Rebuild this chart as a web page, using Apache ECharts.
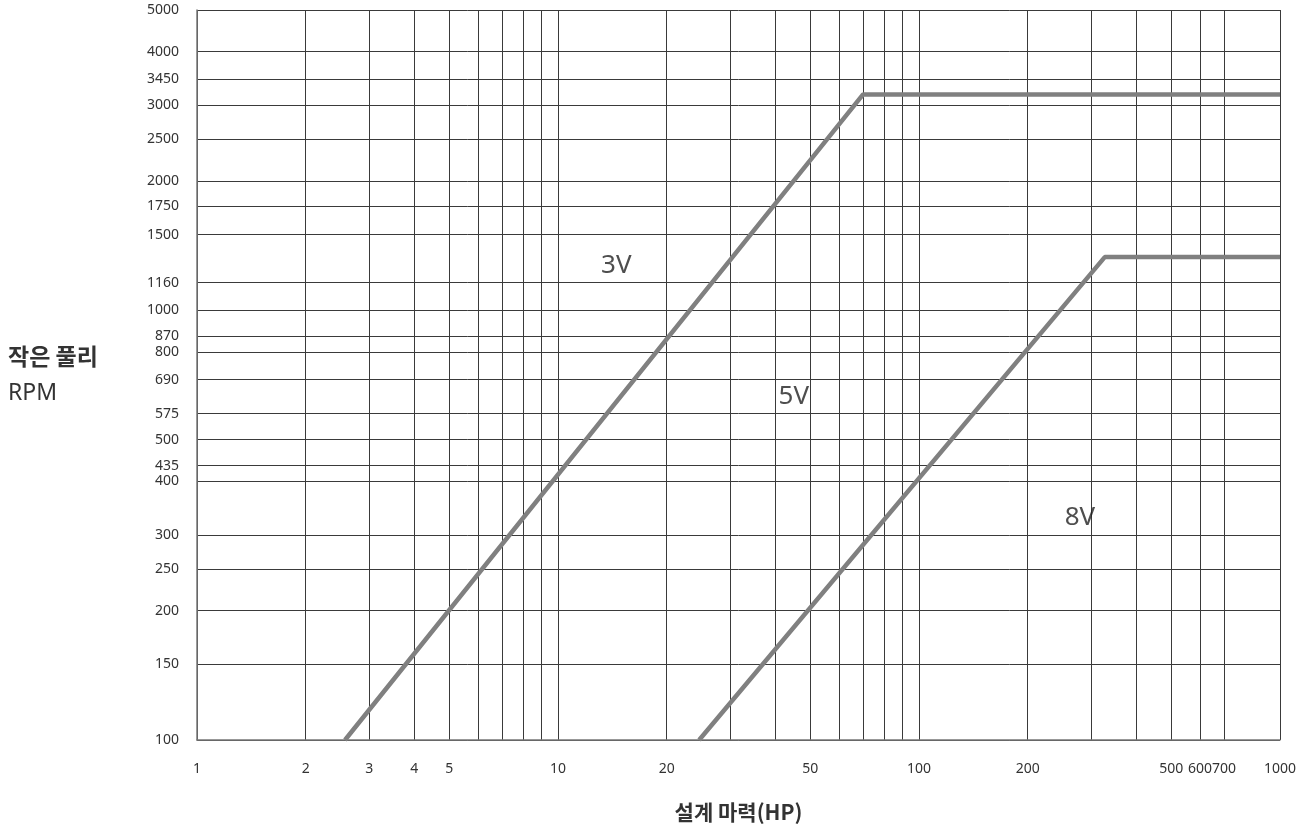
<!DOCTYPE html>
<html>
<head>
<meta charset="utf-8">
<style>
  html, body { margin: 0; padding: 0; background: #fff; }
  #chart { width: 1305px; height: 830px; }
</style>
<script src="https://cdn.jsdelivr.net/npm/echarts@6/dist/echarts.min.js"></script>
</head>
<body>
<div id="chart"></div>
<script>
// 설계 마력 (HP) 축 - 눈금/라벨
var xGridValues = [1, 2, 3, 4, 5, 6, 7, 8, 9, 10, 20, 30, 40, 50, 60, 70, 80, 90, 100, 200, 300, 400, 500, 600, 700, 1000];
var xLabelValues = [1, 2, 3, 4, 5, 10, 20, 50, 100, 200, 500, 600, 700, 1000];
// 작은 풀리 RPM 축
var yTickValues = [100, 150, 200, 250, 300, 400, 435, 500, 575, 690, 800, 870, 1000, 1160, 1500, 1750, 2000, 2500, 3000, 3450, 4000, 5000];

// 경계선 (HP, RPM)
var line3V_hp = [2.57, 70, 1000];
var line3V_rpm = [100, 3180, 3180];
var line5V_hp = [24.6, 327, 1000];
var line5V_rpm = [100, 1330, 1330];

// 영역 이름
var zoneNames = ['3V', '5V', '8V'];
var zoneHp = [14.5, 45, 279];
var zoneRpm = [1274, 631, 330];

var lg = function (v) { return Math.log10(v); };
var pair = function (xs, ys) { return xs.map(function (x, i) { return [lg(x), lg(ys[i])]; }); };
var back = function (v) { return String(Math.round(Math.pow(10, v))); };

var gridColor = '#3a3a3a';
var textColor = '#333';
var font = '"Noto Sans CJK KR", "Noto Sans", sans-serif';
var numFont = '"Noto Sans", sans-serif';

var myChart = echarts.init(document.getElementById('chart'), null, { renderer: 'canvas' });
myChart.setOption({
  animation: false,
  backgroundColor: '#fff',
  grid: { left: 197, right: 25, top: 10, bottom: 90 },
  xAxis: {
    type: 'value',
    min: 0,
    max: 3,
    name: '설계 마력(HP)',
    nameLocation: 'middle',
    nameGap: 62,
    nameTextStyle: { fontFamily: font, fontSize: 21, fontWeight: 'bold', color: textColor },
    axisLine: { show: true, lineStyle: { color: '#777', width: 1.5 } },
    axisTick: { show: false, customValues: xGridValues.map(lg) },
    axisLabel: {
      customValues: xLabelValues.map(lg),
      formatter: back,
      margin: 22,
      fontFamily: numFont,
      fontSize: 14,
      color: textColor
    },
    splitLine: { show: true, lineStyle: { color: gridColor, width: 1 } }
  },
  yAxis: {
    type: 'value',
    min: 2,
    max: lg(5000),
    name: '{a|작은 풀리}\n{b|RPM}',
    nameLocation: 'middle',
    nameRotate: 0,
    nameGap: 189,
    nameTextStyle: {
      align: 'left',
      fontFamily: font,
      color: textColor,
      rich: {
        a: { fontFamily: font, fontSize: 23, fontWeight: 'bold', color: textColor, lineHeight: 37 },
        b: { fontFamily: numFont, fontSize: 23, color: textColor, lineHeight: 37 }
      }
    },
    axisLine: { show: true, lineStyle: { color: '#777', width: 1.5 } },
    axisTick: { show: false, customValues: yTickValues.map(lg) },
    axisLabel: {
      customValues: yTickValues.map(lg),
      formatter: back,
      margin: 18,
      fontFamily: numFont,
      fontSize: 14,
      color: textColor
    },
    splitLine: { show: true, lineStyle: { color: gridColor, width: 1 } }
  },
  series: [
    {
      name: '3V',
      type: 'line',
      data: pair(line3V_hp, line3V_rpm),
      symbol: 'none',
      lineStyle: { color: '#808080', width: 4.5 }
    },
    {
      name: '5V',
      type: 'line',
      data: pair(line5V_hp, line5V_rpm),
      symbol: 'none',
      lineStyle: { color: '#808080', width: 4.5 }
    },
    {
      type: 'scatter',
      symbolSize: 0,
      data: zoneNames.map(function (n, i) { return { name: n, value: [lg(zoneHp[i]), lg(zoneRpm[i])] }; }),
      label: {
        show: true,
        position: 'inside',
        formatter: '{b}',
        fontFamily: numFont,
        fontSize: 26,
        color: '#222'
      }
    }
  ]
});
</script>
</body>
</html>
